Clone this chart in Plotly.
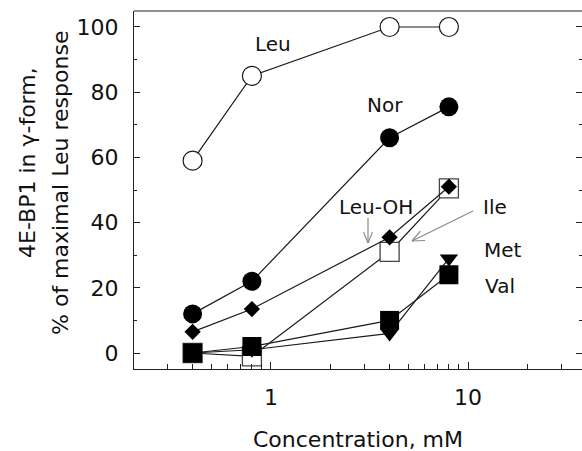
import math
import plotly.graph_objects as go

# ---- data ----
conc = [0.4, 0.8, 4, 8]
leu = [59, 85, 100, 100]
nor = [12, 22, 66, 75.5]
leu_oh = [6.5, 13.5, 35.5, 51]
ile = [0, -1, 31, 50.5]
met = [0, 1, 6, 29]
val = [0, 2, 10, 24]

x_tick_vals = [1, 10]
x_tick_text = ["1", "10"]
x_minor_vals = [0.3, 0.4, 0.5, 0.6, 0.7, 0.8, 0.9, 2, 3, 4, 5, 6, 7, 8, 9, 20, 30]
y_tick_vals = [0, 20, 40, 60, 80, 100]
y_tick_text = ["0", "20", "40", "60", "80", "100"]
y_minor_vals = [10, 30, 50, 70, 90]

# ---- layout geometry ----
W, H = 582, 451
L, R, T, B = 134, 0, 11, 82
PX0, PX1, PY0, PY1 = L, W - R, T, H - B
FONT = "DejaVu Sans"
x_range = [-0.6954, 1.5787]
y_range = [-4.9, 104.9]


def pp(px, py):
    return (px - PX0) / (PX1 - PX0), (PY1 - py) / (PY1 - PY0)


LINE = dict(color="#1a1a1a", width=1.2)

fig = go.Figure()
fig.add_trace(go.Scatter(x=conc, y=leu, mode="lines+markers", line=LINE,
                         marker=dict(symbol="circle", size=19, color="white",
                                     line=dict(color="#1a1a1a", width=1.2))))
fig.add_trace(go.Scatter(x=conc, y=nor, mode="lines+markers", line=LINE,
                         marker=dict(symbol="circle", size=19, color="black")))
fig.add_trace(go.Scatter(x=conc, y=ile, mode="lines+markers", line=LINE,
                         marker=dict(symbol="square", size=19, color="white",
                                     line=dict(color="#444", width=1.3))))
fig.add_trace(go.Scatter(x=conc, y=leu_oh, mode="lines+markers", line=LINE,
                         marker=dict(symbol="diamond", size=12.5, color="black")))
fig.add_trace(go.Scatter(x=conc, y=met, mode="lines+markers", line=LINE,
                         marker=dict(symbol="triangle-down", size=16, color="black")))
fig.add_trace(go.Scatter(x=conc, y=val, mode="lines+markers", line=LINE,
                         marker=dict(symbol="square", size=19, color="black")))
# helper trace so the right-hand tick axis is drawn
fig.add_trace(go.Scatter(x=[1], y=[50], yaxis="y2", mode="markers",
                         marker=dict(opacity=0), hoverinfo="skip"))

fig.update_layout(
    width=W, height=H, margin=dict(l=L, r=R, t=T, b=B),
    paper_bgcolor="white", plot_bgcolor="white", showlegend=False,
    font=dict(family=FONT, size=22, color="#111"),
    xaxis=dict(type="log", range=x_range, showline=True, linecolor="#222", linewidth=1.2,
               showgrid=False, zeroline=False, tickmode="array", tickvals=x_tick_vals,
               ticktext=x_tick_text, ticks="inside", ticklen=7, tickwidth=1, tickcolor="#222",
               ticklabelstandoff=8,
               minor=dict(tickmode="array", tickvals=x_minor_vals, ticks="inside",
                          ticklen=5, tickwidth=1, tickcolor="#222", showgrid=False)),
    yaxis=dict(range=y_range, showline=True, linecolor="#222", linewidth=1.2,
               showgrid=False, zeroline=False, tickmode="array", tickvals=y_tick_vals,
               ticktext=y_tick_text, ticks="inside", ticklen=6, tickwidth=1, tickcolor="#222",
               ticklabelstandoff=10,
               minor=dict(tickmode="array", tickvals=y_minor_vals, ticks="inside",
                          ticklen=3, tickwidth=1, tickcolor="#222", showgrid=False)),
    yaxis2=dict(range=y_range, overlaying="y", side="right", anchor="x", showline=False,
                showgrid=False, zeroline=False, showticklabels=False, tickmode="array",
                tickvals=y_tick_vals, ticks="inside", ticklen=6, tickwidth=1, tickcolor="#222",
                minor=dict(tickmode="array", tickvals=y_minor_vals, ticks="inside",
                           ticklen=3, tickwidth=1, tickcolor="#222", showgrid=False)),
)

# top border
fig.add_shape(type="line", xref="paper", yref="paper", x0=0, x1=1, y0=1, y1=1,
              line=dict(color="#222", width=1.2))

# axis titles
ann = []
x, y = pp(358, 439)
ann.append(dict(text="Concentration, mM", x=x, y=y, font=dict(size=22)))
x, y = pp(27, 163)
ann.append(dict(text="4E-BP1 in γ-form,", x=x, y=y, textangle=-90, font=dict(size=22)))
x, y = pp(60, 183)
ann.append(dict(text="% of maximal Leu response", x=x, y=y, textangle=-90, font=dict(size=22)))

# series labels
labels = [("Leu", 273, 44), ("Nor", 384.5, 105), ("Leu-OH", 376, 207),
          ("Ile", 495, 207), ("Met", 503, 250), ("Val", 499.5, 286)]
for t, lx, ly in labels:
    x, y = pp(lx, ly)
    ann.append(dict(text=t, x=x, y=y, font=dict(size=20)))

for a in ann:
    a.update(xref="paper", yref="paper", xanchor="center", yanchor="middle",
             showarrow=False)
fig.update_layout(annotations=ann)

# pointer arrows (gray, open heads)
GRAY = dict(color="#8a8a8a", width=1.2)


def arrow(tx, ty, hx, hy, arm=12, ang=22):
    segs = [((tx, ty), (hx, hy))]
    dx, dy = tx - hx, ty - hy
    d = math.hypot(dx, dy)
    ux, uy = dx / d, dy / d
    for s in (1, -1):
        a = math.radians(ang * s)
        rx = ux * math.cos(a) - uy * math.sin(a)
        ry = ux * math.sin(a) + uy * math.cos(a)
        segs.append(((hx, hy), (hx + rx * arm, hy + ry * arm)))
    for (x0, y0), (x1, y1) in segs:
        a0, b0 = pp(x0, y0)
        a1, b1 = pp(x1, y1)
        fig.add_shape(type="line", xref="paper", yref="paper", x0=a0, y0=b0, x1=a1, y1=b1,
                      line=GRAY)


arrow(368, 218, 368, 243, arm=12, ang=22)
arrow(473, 211, 412, 241, arm=13, ang=24)

fig.write_html("out.html")
